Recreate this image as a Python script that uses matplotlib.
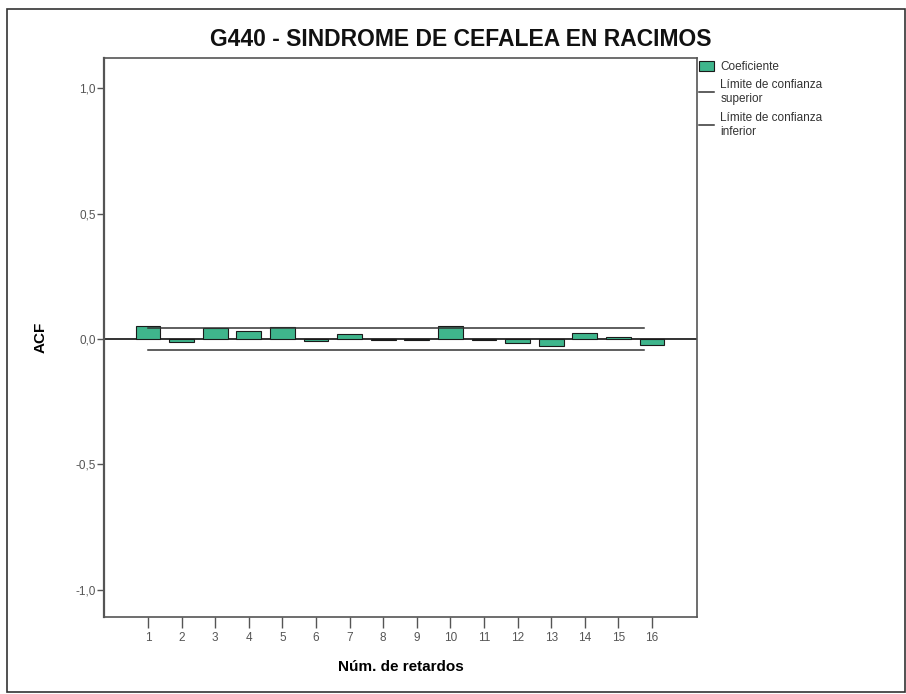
import matplotlib
matplotlib.use("Agg")
import matplotlib.pyplot as plt
from matplotlib.patches import Rectangle
from matplotlib.lines import Line2D

plt.rcParams['font.family'] = ['Liberation Sans', 'DejaVu Sans']

lags = list(range(1, 17))
acf = [0.050, -0.010, 0.045, 0.030, 0.048, -0.008, 0.018, -0.003,
       -0.003, 0.052, -0.004, -0.015, -0.028, 0.024, 0.008, -0.022]
upper_limit = [0.045] * 16
lower_limit = [-0.043] * 16
yticks = [-1.0, -0.5, 0.0, 0.5, 1.0]
ytick_labels = ['-1,0', '-0,5', '0,0', '0,5', '1,0']
title = 'G440 - SINDROME DE CEFALEA EN RACIMOS'

W, H = 906, 694
fig = plt.figure(figsize=(W / 100, H / 100), dpi=100)
ax = fig.add_axes([104 / W, 1 - 617 / H, (697 - 104) / W, (617 - 58) / H])

bar_color = '#3fb58c'
ax.bar(lags, acf, width=0.74, color=bar_color, edgecolor='#1a1a1a', linewidth=0.8, zorder=3)
ax.axhline(0, color='#333333', linewidth=1.4, zorder=2)
lim_x = lags[:-1] + [lags[-1] - 0.25]
ax.plot(lim_x, upper_limit, color='#333333', linewidth=1.1, zorder=4)
ax.plot(lim_x, lower_limit, color='#333333', linewidth=1.1, zorder=4)

ax.set_xlim(-0.31, 17.34)
ax.set_ylim(-1.108, 1.12)
ax.set_yticks(yticks)
ax.set_yticklabels(ytick_labels)
ax.set_xticks(lags)
ax.set_xticklabels([str(l) for l in lags])
ax.tick_params(axis='both', colors='#555555', labelsize=8.5, direction='out')
ax.tick_params(axis='y', length=5, width=1, pad=1)
ax.tick_params(axis='x', length=8, width=1, pad=3)
for s in ax.spines.values():
    s.set_color('#555555')
    s.set_linewidth(1.2)
ax.spines['left'].set_linewidth(1.6)

ax.set_ylabel('ACF', fontsize=11, fontweight='bold', labelpad=20)
ax.set_xlabel('Núm. de retardos', fontsize=11, fontweight='bold', labelpad=11)
fig.text(461 / W, 1 - 40 / H, title, ha='center', va='center', fontsize=16.5,
         fontweight='bold', color='#111111')

handles = [Rectangle((0, 0), 1, 1, facecolor=bar_color, edgecolor='#1a1a1a', linewidth=0.8),
           Line2D([], [], color='#333333', linewidth=1.1),
           Line2D([], [], color='#333333', linewidth=1.1)]
labels = ['Coeficiente', 'Límite de confianza\nsuperior', 'Límite de confianza\ninferior']
fig.legend(handles, labels, loc='upper left', bbox_to_anchor=(699 / W, 1 - 61 / H),
           frameon=False, fontsize=8.5, handlelength=1.3, handleheight=0.9,
           handletextpad=0.5, labelspacing=0.55, borderaxespad=0, borderpad=0,
           labelcolor='#333333')

fig.add_artist(Rectangle((7 / W, 1 - 692 / H), (W - 8) / W, (692 - 9) / H,
                         transform=fig.transFigure, fill=False,
                         edgecolor='#333333', linewidth=1.2))

fig.savefig('out.png', dpi=100)
